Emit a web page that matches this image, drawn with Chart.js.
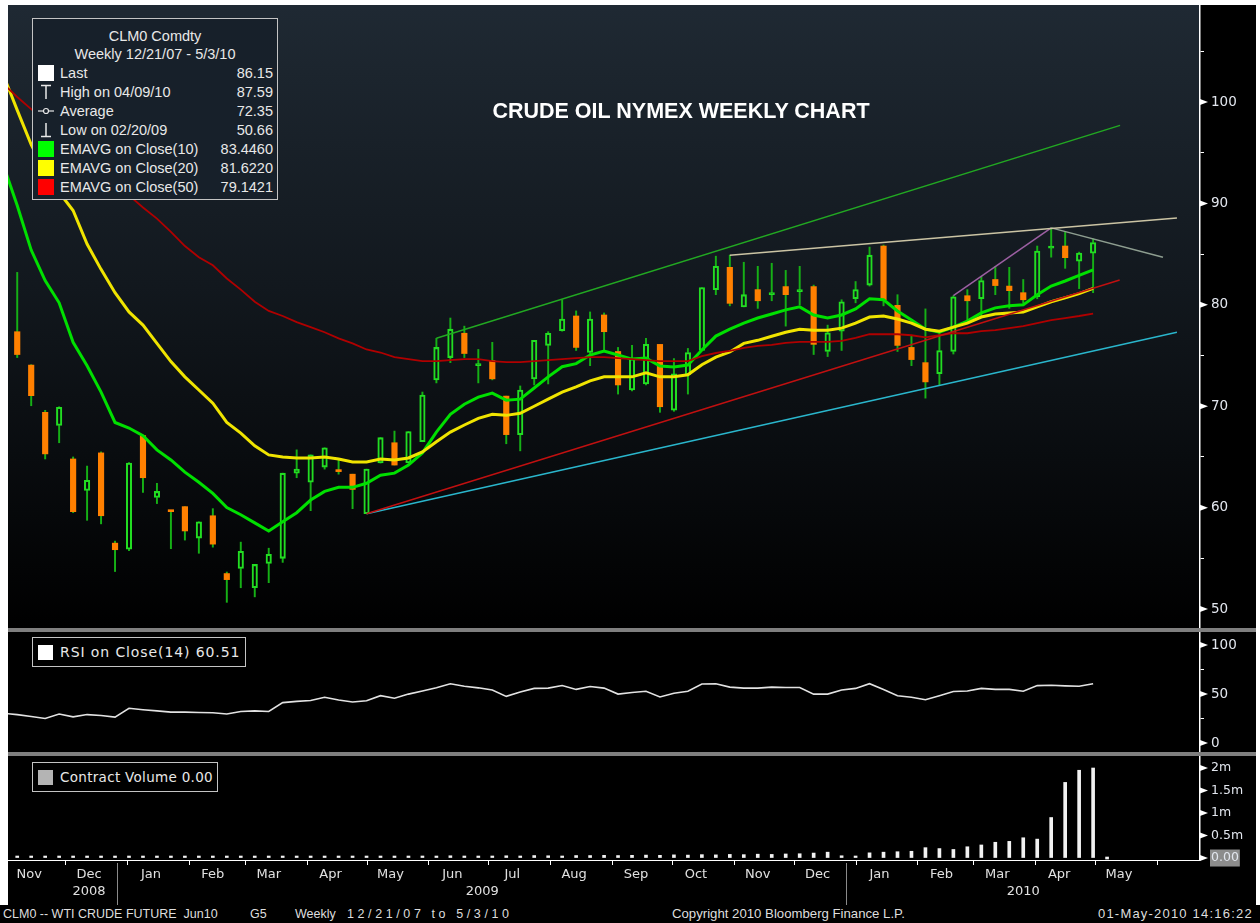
<!DOCTYPE html>
<html>
<head>
<meta charset="utf-8">
<title>Crude Oil NYMEX Weekly Chart</title>
<script src="https://cdn.jsdelivr.net/npm/chart.js@4.4.1/dist/chart.umd.min.js"></script>
<style>
  html, body { margin: 0; padding: 0; background: #fff; }
  body { width: 1260px; height: 923px; position: relative; overflow: hidden; }
  #frame { position: absolute; left: 8px; top: 5px; width: 1248px; height: 900px; background: #000; }
  #frame canvas { position: absolute; left: 0; }
  .sep { position: absolute; left: 0; width: 1248px; height: 4px; background: #7f7f7f; }
  .box { position: absolute; border: 1px solid #c4c4c4; font-family: "Liberation Sans", sans-serif; color: #e8e8e8; }
  .box div { position: absolute; white-space: pre; }
  .ttl { left: 0; width: 100%; text-align: center; font-size: 14.5px; line-height: 18px; }
  .row { left: 0; width: 100%; height: 18px; font-size: 14.5px; line-height: 18px; }
  .row .ic { left: 5px; top: 1px; width: 16px; height: 16px; }
  .row .lb { left: 27px; }
  .row .vl { right: 4px; }
  #title { position: absolute; left: 423px; width: 500px; top: 94px; text-align: center; font: bold 21.5px "Liberation Sans", sans-serif; color: #fff; }
  #footer { position: absolute; left: 0; top: 905px; width: 1260px; height: 18px; background: #000; color: #dedede; font: 12.5px "Liberation Sans", sans-serif; line-height: 18px; }
  #footer span { position: absolute; white-space: pre; }
</style>
</head>
<body>
<div id="frame">
  <canvas id="price" width="1248" height="623" style="top:0"></canvas>
  <div class="sep" style="top:623px"></div>
  <canvas id="rsi" width="1248" height="120" style="top:627px"></canvas>
  <div class="sep" style="top:747px"></div>
  <canvas id="vol" width="1248" height="149" style="top:751px"></canvas>

  <div id="title">CRUDE OIL NYMEX WEEKLY CHART</div>

  <div class="box" style="left:24px;top:13px;width:244px;height:180px;background:#17202a;">
    <div class="ttl" style="top:8px">CLM0 Comdty</div>
    <div class="ttl" style="top:26px">Weekly 12/21/07 - 5/3/10</div>
    <div class="row" style="top:45px"><div class="ic" style="background:#fff"></div><div class="lb">Last</div><div class="vl">86.15</div></div>
    <div class="row" style="top:64px"><div class="ic"><svg width="16" height="16"><path d="M3 1.5H13M8 1.5V15" stroke="#e8e8e8" stroke-width="1.5"/></svg></div><div class="lb">High on 04/09/10</div><div class="vl">87.59</div></div>
    <div class="row" style="top:83px"><div class="ic"><svg width="16" height="16"><path d="M0 8H16" stroke="#e8e8e8" stroke-width="1.2"/><circle cx="8" cy="8" r="2.5" fill="#17202a" stroke="#e8e8e8" stroke-width="1.2"/></svg></div><div class="lb">Average</div><div class="vl">72.35</div></div>
    <div class="row" style="top:102px"><div class="ic"><svg width="16" height="16"><path d="M8 1V14.5M3 14.5H13" stroke="#e8e8e8" stroke-width="1.5"/></svg></div><div class="lb">Low on 02/20/09</div><div class="vl">50.66</div></div>
    <div class="row" style="top:121px"><div class="ic" style="background:#00ff00"></div><div class="lb">EMAVG on Close(10)</div><div class="vl">83.4460</div></div>
    <div class="row" style="top:140px"><div class="ic" style="background:#ffff00"></div><div class="lb">EMAVG on Close(20)</div><div class="vl">81.6220</div></div>
    <div class="row" style="top:159px"><div class="ic" style="background:#ff0000"></div><div class="lb">EMAVG on Close(50)</div><div class="vl">79.1421</div></div>
  </div>

  <div class="box" style="left:24px;top:632px;width:212px;height:28px;background:#000;">
    <div class="row" style="top:5px;font-family:'DejaVu Sans',sans-serif;font-size:14px;letter-spacing:0.9px"><div class="ic" style="background:#fff;top:2px;width:15px;height:15px"></div><div class="lb">RSI on Close(14) 60.51</div></div>
  </div>

  <div class="box" style="left:24px;top:757px;width:184px;height:28px;background:#000;">
    <div class="row" style="top:5px;font-family:'DejaVu Sans',sans-serif;font-size:13.5px;letter-spacing:0.3px"><div class="ic" style="background:#b4b4b4;top:2px;width:15px;height:15px"></div><div class="lb">Contract Volume 0.00</div></div>
  </div>
</div>

<div id="footer">
  <span style="left:3px">CLM0 -- WTI CRUDE FUTURE  Jun10</span>
  <span style="left:250px">G5</span>
  <span style="left:295px">Weekly</span>
  <span style="left:347px;letter-spacing:3.6px">12/21/07 to 5/3/10</span>
  <span style="left:672px;font-size:13.2px">Copyright 2010 Bloomberg Finance L.P.</span>
  <span style="left:1098px;letter-spacing:1.2px;font-size:13px">01-May-2010 14:16:22</span>
</div>

<script>
// weekly candles, week 0 = week ending 7 Nov 2008, last = week ending 30 Apr 2010
var opens  = [77.35,74.06,69.4,68.1,64.8,61.7,65.4,56.5,55.9,67.1,61.0,59.65,60.1,57.0,59.2,53.5,54.0,52.1,54.5,55.0,
              63.4,62.5,64.0,63.6,63.3,59.4,64.4,66.4,64.4,66.5,72.6,74.8,77.2,74.0,74.5,71.0,67.2,72.7,76.0,77.45,
              78.9,75.3,79.0,75.4,71.6,72.2,76.1,69.6,73.1,75.5,81.5,83.7,79.8,81.5,81.0,81.8,81.3,81.8,75.4,77.4,
              80.6,81.95,85.8,79.95,75.8,74.3,73.2,75.4,80.9,80.6,82.5,81.85,81.2,80.8,85.6,85.8,84.3,85.1];
var highs  = [83.2,74.1,69.6,69.95,65.0,64.1,65.5,56.7,64.45,67.1,62.4,59.65,60.1,58.6,59.9,53.65,56.6,54.4,56.0,63.4,
              65.7,65.2,65.9,64.7,63.3,63.8,66.9,67.55,67.5,71.4,76.7,78.7,77.9,75.6,76.3,71.0,72.0,76.5,77.35,80.5,
              79.4,79.3,79.2,75.8,76.0,76.7,76.1,74.7,75.7,81.7,84.8,84.9,84.2,83.8,84.1,83.4,83.8,81.95,78.0,80.5,
              82.3,85.7,85.9,81.0,77.0,79.6,77.2,80.9,81.5,82.8,83.8,83.7,82.5,85.8,87.59,87.2,85.2,86.5];
var lows   = [74.8,70.05,64.8,66.4,59.5,58.75,58.4,53.7,55.75,61.5,60.4,55.95,56.8,55.5,56.1,50.66,52.1,51.2,52.6,54.6,
              62.95,59.7,63.8,63.3,59.9,59.4,64.4,64.2,64.4,66.5,72.3,74.3,74.8,72.3,72.6,66.3,65.6,72.1,72.2,77.4,
              75.5,74.0,75.4,71.2,71.5,72.1,69.4,69.5,71.2,75.5,81.0,79.9,79.8,79.65,80.4,77.9,80.0,75.1,74.9,75.5,
              80.2,81.85,79.9,75.4,74.0,70.8,72.1,75.15,78.3,78.8,81.0,79.65,80.15,80.6,84.7,83.6,81.6,81.2];
var closes = [75.1,71.04,65.3,69.9,59.6,62.7,59.2,55.85,64.4,62.95,61.6,59.6,57.7,58.6,56.4,52.9,55.7,54.4,55.4,63.4,
              63.8,65.2,65.9,63.55,61.8,63.8,66.9,64.2,67.5,71.1,75.8,77.6,75.2,74.05,72.7,67.2,71.6,76.5,77.2,78.6,
              75.8,78.6,77.35,72.1,74.7,76.1,69.95,73.2,75.3,81.7,83.8,80.15,81.0,80.4,81.1,81.0,81.4,76.1,77.25,80.3,
              81.5,84.9,80.5,76.0,74.6,72.4,75.5,80.8,80.4,82.4,81.9,81.4,80.5,85.3,85.65,84.65,85.1,86.15];

// moving averages, first value is the week before week 0 (enters from the left edge)
var ema10 = [93.8,89.8,85.4,82.4,80.2,76.3,74.0,71.4,68.4,67.85,67.1,65.7,64.7,63.5,62.5,61.4,60.0,59.3,58.5,57.7,
             58.6,59.5,60.75,61.6,62.0,62.0,62.4,63.2,63.4,64.2,65.4,67.45,69.2,70.2,70.9,71.3,70.6,70.7,71.8,72.9,
             73.9,74.2,75.05,75.45,75.05,74.65,74.75,73.96,73.87,74.06,75.54,76.92,77.6,78.2,78.7,79.1,79.5,79.8,79.0,78.7,
             79.0,79.6,80.6,80.5,79.4,78.5,77.6,77.3,77.8,78.4,79.2,79.7,79.9,80.0,81.0,81.85,82.35,82.9,83.45];
var ema20 = [102.7,99.2,95.8,93.1,91.1,89.3,86.0,83.5,81.2,79.3,78.0,76.2,74.4,72.9,71.6,70.3,68.4,67.35,66.1,65.2,
             65.0,64.9,64.9,65.0,64.8,64.5,64.5,64.8,64.7,64.9,65.5,66.5,67.45,68.15,68.8,69.2,69.1,69.3,70.0,70.7,
             71.4,71.9,72.5,72.9,72.9,72.9,73.3,72.9,72.9,73.1,74.1,74.85,75.35,76.2,76.5,76.9,77.3,77.6,77.5,77.5,
             77.7,78.2,78.8,78.9,78.6,78.2,77.6,77.4,77.8,78.2,78.8,79.1,79.2,79.3,79.8,80.3,80.7,81.1,81.62];
var ema50 = [101.8,100.5,99.3,98.1,96.9,95.7,94.5,93.3,92.0,90.8,89.6,88.5,87.2,85.8,84.7,83.9,82.6,81.5,80.3,79.4,
             78.9,78.3,77.8,77.3,76.7,76.2,75.6,75.3,74.85,74.65,74.45,74.45,74.55,74.65,74.65,74.45,74.35,74.35,74.45,74.55,
             74.65,74.75,74.85,74.85,74.75,74.65,74.55,74.45,74.45,74.45,74.95,75.25,75.45,75.75,75.95,76.05,76.25,76.35,76.35,76.35,
             76.45,76.75,77.1,77.1,77.1,77.0,76.8,77.0,77.2,77.2,77.4,77.5,77.7,77.9,78.2,78.5,78.7,78.9,79.14];
var rsi14 = [30.2,29.0,27.0,25.0,29.6,26.7,29.0,28.0,26.4,35.4,34.0,32.8,31.5,31.5,31.2,30.9,29.6,32.2,32.8,32.2,
             41.2,42.5,43.4,46.7,43.8,41.8,43.1,48.3,45.7,49.9,53.1,56.3,60.5,57.9,56.3,54.1,47.6,52.1,55.7,56.0,
             58.6,54.7,57.6,56.0,49.9,51.5,52.8,47.0,50.8,52.8,60.2,60.5,57.0,56.0,56.0,57.0,56.6,56.6,49.9,49.9,
             54.1,55.7,60.5,54.7,48.3,46.7,44.1,48.3,52.5,53.1,55.7,54.7,54.7,52.8,58.6,58.9,58.3,57.9,60.51];

// contract volume per week (the last one is the open week 5/3/10)
var volume = [18000,15000,20000,15000,18000,15000,20000,12000,18000,15000,20000,15000,18000,20000,15000,20000,18000,20000,15000,20000,
              18000,22000,20000,18000,22000,20000,25000,22000,25000,45000,40000,50000,45000,40000,45000,50000,45000,55000,50000,45000,
              55000,55000,60000,55000,60000,65000,60000,70000,65000,75000,70000,80000,75000,85000,80000,90000,95000,110000,130000,50000,
              45000,115000,130000,140000,150000,230000,210000,190000,250000,290000,350000,370000,450000,420000,900000,1680000,1950000,2000000,0];

// drawn trend lines [week, price]
var channelTop   = [[30, 76.7], [78.93, 97.7]];
var channelRed   = [[25, 59.4], [78.9, 82.45]];
var channelLow   = [[25, 59.4], [83.0, 77.3]];
var resistance   = [[51, 84.9], [83.0, 88.56]];
var riseLine     = [[67, 80.9], [74, 87.59]];
var fallLine     = [[74, 87.59], [82.0, 84.7]];

// x axis labels
var monthNames  = ['Nov','Dec','Jan','Feb','Mar','Apr','May','Jun','Jul','Aug','Sep','Oct','Nov','Dec','Jan','Feb','Mar','Apr','May'];
var monthYears  = [2008,2008,2009,2009,2009,2009,2009,2009,2009,2009,2009,2009,2009,2009,2010,2010,2010,2010,2010];
var monthNums   = [11,12,1,2,3,4,5,6,7,8,9,10,11,12,1,2,3,4,5];
var yearNames   = ['2008','2009','2010'];
var yearLabelAt = [[2008,12,13],[2009,6,28],[2010,3,26]];
var yearBreaks  = [[2008,12,27],[2009,12,27]];

var firstWeek = Date.UTC(2008, 10, 7);
function wk(y, m, d) { return (Date.UTC(y, m - 1, d) - firstWeek) / (7 * 864e5); }

Chart.defaults.animation = false;
Chart.defaults.events = [];
Chart.defaults.plugins.legend.display = false;
Chart.defaults.plugins.tooltip.enabled = false;
Chart.defaults.font.family = 'DejaVu Sans';

var X_MIN = -0.66, X_MAX = 84.65;

function xAxis() {
  return { type: 'linear', min: X_MIN, max: X_MAX, offset: false, display: false };
}
function yAxis(min, max, step, fmt) {
  return {
    position: 'right', min: min, max: max,
    afterFit: function (s) { s.width = 56; s.paddingTop = 0; s.paddingBottom = 0; },
    border: { display: true, color: '#ffffff', width: 1.5 },
    grid: { drawOnChartArea: false, drawTicks: true, tickLength: 4, tickColor: '#ffffff', tickWidth: 1 },
    ticks: { stepSize: step, includeBounds: false, autoSkip: false, color: '#e2e6ee',
             font: { size: 13.5 }, padding: 7, callback: fmt }
  };
}

// panel backgrounds
var panelBg = {
  id: 'panelBg',
  beforeDraw: function (chart, args, opts) {
    var a = chart.chartArea, ctx = chart.ctx;
    ctx.save();
    ctx.fillStyle = '#000';
    ctx.fillRect(0, 0, chart.width, chart.height);
    if (opts.gradient) {
      var g = ctx.createLinearGradient(0, a.top, 0, a.bottom);
      g.addColorStop(0, '#1f2933');
      g.addColorStop(0.45, '#12181e');
      g.addColorStop(1, '#000000');
      ctx.fillStyle = g;
      ctx.fillRect(a.left, a.top, a.right - a.left, a.bottom - a.top);
    }
    ctx.restore();
  }
};

// triangle markers on labelled ticks
var tickFlags = {
  id: 'tickFlags',
  afterDraw: function (chart) {
    var s = chart.scales.y, ctx = chart.ctx;
    ctx.save();
    ctx.fillStyle = '#ffffff';
    s.ticks.forEach(function (t) {
      if (t.label === '' || t.label == null) return;
      var y = s.getPixelForValue(t.value);
      ctx.beginPath();
      ctx.moveTo(s.left, y - 3);
      ctx.lineTo(s.left + 8, y);
      ctx.lineTo(s.left, y + 3);
      ctx.closePath();
      ctx.fill();
    });
    ctx.restore();
  }
};

// month / year labels under the volume panel
var dateAxis = {
  id: 'dateAxis',
  afterDraw: function (chart) {
    var x = chart.scales.x, a = chart.chartArea, ctx = chart.ctx;
    ctx.save();
    ctx.strokeStyle = '#ffffff';
    ctx.lineWidth = 1;
    ctx.beginPath();
    ctx.moveTo(a.left, a.bottom + 0.5);
    ctx.lineTo(a.right, a.bottom + 0.5);
    ctx.stroke();
    // month boundaries
    for (var k = 1; k <= monthNames.length; k++) {
      var y = k < monthNames.length ? monthYears[k] : 2010;
      var m = k < monthNames.length ? monthNums[k] : 6;
      var px = Math.round(x.getPixelForValue(wk(y, m, 1))) + 0.5;
      if (px < a.left || px > a.right) continue;
      ctx.beginPath();
      ctx.moveTo(px, a.bottom);
      ctx.lineTo(px, a.bottom + 5);
      ctx.stroke();
    }
    // year breaks
    ctx.strokeStyle = '#8a8a8a';
    yearBreaks.forEach(function (d) {
      var px = Math.round(x.getPixelForValue(wk(d[0], d[1], d[2]))) + 0.5;
      ctx.beginPath();
      ctx.moveTo(px, a.bottom + 3);
      ctx.lineTo(px, chart.height);
      ctx.stroke();
    });
    ctx.fillStyle = '#e0e0e0';
    ctx.font = '13px "DejaVu Sans"';
    ctx.textAlign = 'center';
    ctx.textBaseline = 'middle';
    monthNames.forEach(function (n, k) {
      ctx.fillText(n, x.getPixelForValue(wk(monthYears[k], monthNums[k], 13)), a.bottom + 15);
    });
    yearNames.forEach(function (n, k) {
      var d = yearLabelAt[k];
      ctx.fillText(n, x.getPixelForValue(wk(d[0], d[1], d[2])), a.bottom + 32);
    });
    ctx.restore();
  }
};

function series(arr) { return arr.map(function (v, k) { return { x: k - 1, y: v }; }); }
function seg(pts) { return pts.map(function (p) { return { x: p[0], y: p[1] }; }); }
function trend(pts, color) {
  return { type: 'line', data: seg(pts), borderColor: color, borderWidth: 1.5, pointRadius: 0, order: 0 };
}

var up = opens.map(function (o, i) { return closes[i] >= o; });
var bodies = opens.map(function (o, i) { return { x: i, y: [o, closes[i]] }; });
var upperWicks = opens.map(function (o, i) { return { x: i, y: [Math.max(o, closes[i]), highs[i]] }; });
var lowerWicks = opens.map(function (o, i) { return { x: i, y: [lows[i], Math.min(o, closes[i])] }; });

new Chart(document.getElementById('price'), {
  type: 'bar',
  data: {
    datasets: [
      { data: upperWicks, grouped: false, barThickness: 1.3, backgroundColor: '#16b016', order: 3 },
      { data: lowerWicks, grouped: false, barThickness: 1.3, backgroundColor: '#16b016', order: 3 },
      { data: bodies, grouped: false, barThickness: 5.5, minBarLength: 2, borderSkipped: false, order: 2,
        backgroundColor: function (c) { return up[c.dataIndex] ? 'rgba(0,0,0,0)' : '#ff8000'; },
        borderColor: function (c) { return up[c.dataIndex] ? '#22dd22' : '#ff8000'; },
        borderWidth: function (c) { return up[c.dataIndex] ? 1.4 : 0; } },
      { type: 'line', data: series(ema50), borderColor: '#b00000', borderWidth: 1.8, pointRadius: 0, order: 1 },
      { type: 'line', data: series(ema20), borderColor: '#f0e400', borderWidth: 3, pointRadius: 0, order: 1 },
      { type: 'line', data: series(ema10), borderColor: '#00e000', borderWidth: 3, pointRadius: 0, order: 1 },
      trend(channelTop, '#22a822'),
      trend(channelRed, '#c01010'),
      trend(channelLow, '#2ab6cc'),
      trend(resistance, '#cbc4a4'),
      trend(riseLine, '#9c5fa2'),
      trend(fallLine, '#8e9e90')
    ]
  },
  options: {
    responsive: false,
    layout: { padding: 0 },
    scales: {
      x: xAxis(),
      y: yAxis(48.13, 109.57, 5, function (v) { return v % 10 === 0 ? String(v) : ''; })
    },
    plugins: { panelBg: { gradient: true } }
  },
  plugins: [panelBg, tickFlags]
});

new Chart(document.getElementById('rsi'), {
  type: 'line',
  data: {
    datasets: [{ data: series(rsi14), borderColor: '#e2e2e2', borderWidth: 1.6, pointRadius: 0 }]
  },
  options: {
    responsive: false,
    layout: { padding: 0 },
    scales: {
      x: xAxis(),
      y: yAxis(-9.18, 113.27, 25, function (v) { return v % 50 === 0 ? String(v) : ''; })
    },
    plugins: { panelBg: { gradient: false } }
  },
  plugins: [panelBg, tickFlags]
});

// volume axis in millions of contracts
var volY = yAxis(-0.044, 2.267, 0.5, function (v) {
  if (v === 0) return '0.00';
  return v + 'm';
});
volY.ticks.font = { size: 12.5 };
volY.ticks.showLabelBackdrop = function (c) { return c.tick && c.tick.value === 0; };
volY.ticks.backdropColor = '#8c8c8c';
volY.ticks.backdropPadding = 1;

new Chart(document.getElementById('vol'), {
  type: 'bar',
  data: {
    datasets: [{
      data: volume.map(function (v, i) { return { x: i, y: v / 1e6 }; }),
      barThickness: 3, minBarLength: 2, backgroundColor: '#f2f2f2'
    }]
  },
  options: {
    responsive: false,
    layout: { padding: { top: 0, left: 0, right: 0, bottom: 45 } },
    scales: { x: xAxis(), y: volY },
    plugins: { panelBg: { gradient: false } }
  },
  plugins: [panelBg, tickFlags, dateAxis]
});
</script>
</body>
</html>
